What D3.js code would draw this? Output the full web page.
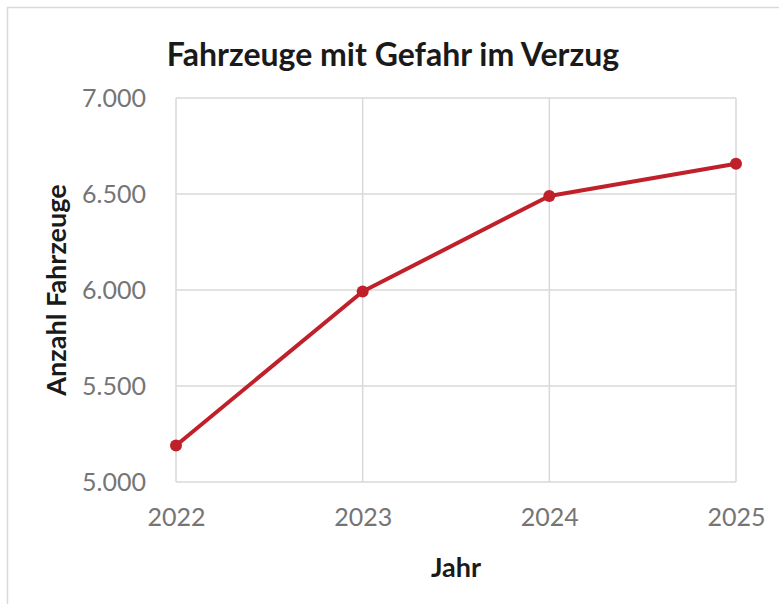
<!DOCTYPE html>
<html>
<head>
<meta charset="utf-8">
<script src="https://cdn.jsdelivr.net/npm/d3@7"></script>
<style>
  body { margin: 0; background: #fff; }
  text { font-family: Lato, "Open Sans", sans-serif; }
</style>
</head>
<body>
<svg id="drawing_region"></svg>
<script>
const years = [2022, 2023, 2024, 2025];
const vehicles = [5190, 5992, 6490, 6658];
const yTicks = [5000, 5500, 6000, 6500, 7000];

const width = 779, height = 604;
const margin = {top: 98, right: 43, bottom: 122, left: 176};
const innerW = width - margin.left - margin.right;
const innerH = height - margin.top - margin.bottom;

const svg = d3.select('#drawing_region')
    .attr('width', width)
    .attr('height', height);

// chart frame
svg.append('rect')
    .attr('x', 7.5).attr('y', 7.5)
    .attr('width', width + 20).attr('height', height + 20)
    .attr('fill', 'none')
    .attr('stroke', '#d9d9d9')
    .attr('stroke-width', 1.5);

const chart = svg.append('g')
    .attr('transform', `translate(${margin.left}, ${margin.top})`);

const xscale = d3.scalePoint()
    .domain(years)
    .range([0, innerW]);

const yscale = d3.scaleLinear()
    .domain([5000, 7000])
    .range([innerH, 0]);

// gridlines
chart.append('g').selectAll('line')
    .data(yTicks)
    .join('line')
    .attr('x1', 0).attr('x2', innerW)
    .attr('y1', d => yscale(d)).attr('y2', d => yscale(d))
    .attr('stroke', '#d9d9d9').attr('stroke-width', 1.5);

chart.append('g').selectAll('line')
    .data(years)
    .join('line')
    .attr('x1', d => xscale(d)).attr('x2', d => xscale(d))
    .attr('y1', 0).attr('y2', innerH)
    .attr('stroke', '#d9d9d9').attr('stroke-width', 1.5);

// axes
const fmt = d => d3.format(',')(d).replace(/,/g, '.');

const yaxis = d3.axisLeft(yscale).tickValues(yTicks).tickFormat(fmt).tickSize(0).tickPadding(30);
const yaxis_group = chart.append('g').call(yaxis);
yaxis_group.select('.domain').remove();
yaxis_group.selectAll('text')
    .attr('fill', '#757575')
    .attr('font-size', '25px');

const xaxis = d3.axisBottom(xscale).tickFormat(d => d).tickSize(0).tickPadding(26);
const xaxis_group = chart.append('g')
    .attr('transform', `translate(0, ${innerH})`)
    .call(xaxis);
xaxis_group.select('.domain').remove();
xaxis_group.selectAll('text')
    .attr('fill', '#757575')
    .attr('font-size', '25px');

// line
const pts = years.map((y, i) => ({year: y, value: vehicles[i]}));

chart.append('path')
    .datum(pts)
    .attr('fill', 'none')
    .attr('stroke', '#c0202a')
    .attr('stroke-width', 4)
    .attr('stroke-linejoin', 'round')
    .attr('d', d3.line().x(d => xscale(d.year)).y(d => yscale(d.value)));

chart.selectAll('circle')
    .data(pts)
    .join('circle')
    .attr('cx', d => xscale(d.year))
    .attr('cy', d => yscale(d.value))
    .attr('r', 6)
    .attr('fill', '#c0202a');

// titles
svg.append('text')
    .attr('x', 393).attr('y', 66)
    .attr('text-anchor', 'middle')
    .attr('font-size', '32px')
    .attr('font-weight', 'bold')
    .attr('fill', '#1a1a1a')
    .text('Fahrzeuge mit Gefahr im Verzug');

svg.append('text')
    .attr('x', margin.left + innerW / 2).attr('y', 577)
    .attr('text-anchor', 'middle')
    .attr('font-size', '27px')
    .attr('font-weight', 'bold')
    .attr('fill', '#1a1a1a')
    .text('Jahr');

svg.append('text')
    .attr('transform', 'rotate(-90)')
    .attr('x', -290).attr('y', 66)
    .attr('text-anchor', 'middle')
    .attr('font-size', '27px')
    .attr('font-weight', 'bold')
    .attr('fill', '#1a1a1a')
    .text('Anzahl Fahrzeuge');
</script>
</body>
</html>
